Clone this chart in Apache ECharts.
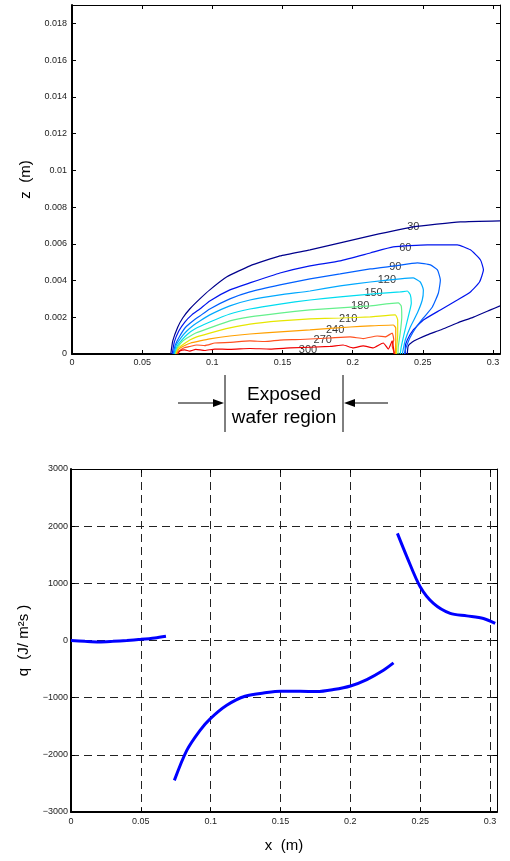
<!doctype html>
<html>
<head>
<meta charset="utf-8">
<title></title>
<script src="https://cdn.jsdelivr.net/npm/echarts@6/dist/echarts.min.js"></script>
<style>
  html, body { margin: 0; padding: 0; background: #fff; }
  #container { width: 510px; height: 861px; }
</style>
</head>
<body>
<div id="container"></div>
<script type="text/javascript">
// contour levels (temperature) and one [x, z] polyline per level
var levels = [30, 60, 90, 120, 150, 180, 210, 240, 270, 300];

var c030a = [[0.0704,0],[0.0718,0.00071],[0.0754,0.00147],[0.0789,0.00196],[0.0839,0.00245],[0.0911,0.003],[0.0982,0.00349],[0.1104,0.0042],[0.1268,0.0048],[0.1482,0.00534],[0.1696,0.00567],[0.1911,0.00605],[0.2125,0.00643],[0.2432,0.00692],[0.2768,0.00719],[0.305,0.00725]];
var c030b = [[0.2389,0],[0.2396,0.00044],[0.2425,0.00065],[0.2461,0.0008],[0.2532,0.00104],[0.2625,0.00131],[0.2746,0.00169],[0.2861,0.00201],[0.2982,0.0024],[0.305,0.00262]];
var c060 = [[0.0714,0],[0.0729,0.00065],[0.0761,0.00125],[0.0804,0.00174],[0.0854,0.00213],[0.0911,0.00245],[0.0982,0.00289],[0.1125,0.00349],[0.1268,0.00387],[0.1482,0.00441],[0.1696,0.0048],[0.1911,0.00507],[0.2125,0.0055],[0.2289,0.00583],[0.2532,0.00594],[0.2746,0.00594],[0.2839,0.00567],[0.2911,0.00512],[0.2932,0.00458],[0.2904,0.00392],[0.2839,0.00338],[0.2746,0.00294],[0.2625,0.0024],[0.2504,0.00185],[0.2432,0.00131],[0.2389,0.00076],[0.2375,0.00038],[0.2375,0]];
var c090 = [[0.0721,0],[0.0736,0.00049],[0.0768,0.00098],[0.0811,0.00147],[0.0861,0.0018],[0.0911,0.00207],[0.0982,0.00245],[0.1125,0.003],[0.1268,0.00338],[0.1482,0.00376],[0.1696,0.00409],[0.1911,0.00436],[0.2125,0.00463],[0.2304,0.0048],[0.2461,0.00496],[0.2554,0.00485],[0.2604,0.00458],[0.2625,0.00403],[0.2611,0.00332],[0.2568,0.00256],[0.2504,0.00196],[0.2454,0.00147],[0.2411,0.00093],[0.2382,0.00038],[0.2368,0]];
var c120 = [[0.0727,0],[0.0743,0.00049],[0.0775,0.00087],[0.0818,0.00125],[0.0868,0.00158],[0.0911,0.0018],[0.0982,0.00213],[0.1125,0.00262],[0.1268,0.00294],[0.1482,0.00322],[0.1696,0.00343],[0.1911,0.00371],[0.2125,0.00392],[0.2339,0.00409],[0.2432,0.00414],[0.2482,0.00392],[0.2504,0.00349],[0.2496,0.00294],[0.2461,0.00223],[0.2411,0.00147],[0.2375,0.00076],[0.2354,0]];
var c150 = [[0.0732,0],[0.075,0.00044],[0.0782,0.00076],[0.0825,0.00109],[0.0875,0.00136],[0.0982,0.00174],[0.1125,0.00218],[0.1268,0.00245],[0.1482,0.00272],[0.1696,0.00294],[0.1911,0.00311],[0.2146,0.00327],[0.2339,0.00338],[0.2389,0.00343],[0.2411,0.00322],[0.2418,0.00278],[0.2396,0.00202],[0.2368,0.00114],[0.2346,0.00038],[0.2339,0]];
var c180 = [[0.0737,0],[0.0754,0.00038],[0.0789,0.00071],[0.0832,0.00093],[0.0882,0.00114],[0.0982,0.00142],[0.1125,0.0018],[0.1268,0.00202],[0.1482,0.00223],[0.1696,0.0024],[0.1911,0.00251],[0.2125,0.00262],[0.2325,0.00278],[0.2346,0.00262],[0.235,0.00202],[0.2339,0.00114],[0.2325,0.00038],[0.2323,0]];
var c210 = [[0.0741,0],[0.0757,0.00033],[0.0796,0.00054],[0.0839,0.00076],[0.0889,0.00093],[0.0982,0.00114],[0.1125,0.00142],[0.1268,0.00163],[0.1482,0.0018],[0.1696,0.00191],[0.1911,0.00196],[0.2125,0.00202],[0.2304,0.00213],[0.2321,0.00185],[0.2321,0.00104],[0.2314,0.00038],[0.2311,0]];
var c240 = [[0.0746,0],[0.0761,0.00027],[0.0796,0.00044],[0.0846,0.0006],[0.0911,0.00071],[0.0982,0.00082],[0.1125,0.00098],[0.1268,0.00109],[0.1482,0.0012],[0.1696,0.00131],[0.1982,0.00147],[0.2125,0.00153],[0.2289,0.00158],[0.2307,0.00142],[0.2307,0.00076],[0.2304,0]];
var c270 = [[0.075,0],[0.0764,0.00016],[0.0796,0.00033],[0.0839,0.00041],[0.0889,0.00049],[0.0946,0.00046],[0.1018,0.0006],[0.1125,0.00063],[0.1268,0.00071],[0.1375,0.00068],[0.1482,0.00076],[0.1625,0.00079],[0.1839,0.00087],[0.1982,0.00093],[0.2075,0.00084],[0.2175,0.00098],[0.2232,0.00093],[0.2282,0.00114],[0.2293,0.00076],[0.2282,0.00044],[0.23,0]];
var c300 = [[0.0754,0],[0.0768,0.00016],[0.0804,0.00022],[0.0839,0.00016],[0.0882,0.00025],[0.0946,0.00019],[0.1018,0.00027],[0.1125,0.00025],[0.1268,0.0003],[0.1411,0.00027],[0.1554,0.00033],[0.1839,0.00041],[0.1932,0.00049],[0.2004,0.00033],[0.2075,0.00044],[0.2146,0.00033],[0.2218,0.0006],[0.2254,0.00027],[0.2282,0.00071],[0.2296,0]];

// where each level's number sits on its line
var labelAt = [[0.2432,0.00692],[0.2375,0.00578],[0.2304,0.00474],[0.2244,0.00403],[0.2149,0.00332],[0.2054,0.00262],[0.1968,0.00191],[0.1875,0.00131],[0.1787,0.00076],[0.1682,0.00022]];

// heat flux q along the wafer, three pieces
var qx1 = [0, 0.01, 0.02, 0.03, 0.04, 0.05, 0.06, 0.068];
var qv1 = [0, -15, -25, -15, 0, 20, 45, 75];
var qx2 = [0.074, 0.0829, 0.0924, 0.0998, 0.1115, 0.1246, 0.1402, 0.1502, 0.164, 0.176, 0.1879, 0.2001, 0.2118, 0.2237, 0.2309];
var qv2 = [-2447, -1921, -1571, -1366, -1133, -975, -911, -888, -888, -893, -858, -795, -683, -520, -392];
var qx3 = [0.2337, 0.2405, 0.25, 0.2595, 0.2715, 0.2834, 0.2953, 0.3037];
var qv3 = [1874, 1464, 939, 648, 473, 431, 385, 298];

var levelColors = ['#00008c', '#0014ee', '#0060ff', '#00a8ff', '#00dcf0', '#64f08c', '#e6e600', '#ffa000', '#ff5020', '#f00000'];
var FONT = 'Liberation Sans, Arial, Helvetica, sans-serif';

var contourLines = [
	[0, c030a], [0, c030b], [1, c060], [2, c090], [3, c120],
	[4, c150], [5, c180], [6, c210], [7, c240], [8, c270], [9, c300]
];

function zip(xs, ys) {
	var out = [];
	for (var i = 0; i < xs.length; i++) out.push([xs[i], ys[i]]);
	return out;
}

function boxAxis(grid, pos, min, max, interval, labels) {
	var ax = {
		type: 'value', gridIndex: grid, position: pos,
		min: min, max: max, interval: interval,
		axisLine: { show: true, onZero: false, lineStyle: { color: '#000', width: labels ? 2 : 1 } },
		axisTick: { show: true, inside: true, length: 4, lineStyle: { color: '#000' } },
		axisLabel: { show: !!labels, fontSize: 9, color: '#222', fontFamily: FONT, showMaxLabel: false },
		splitLine: { show: false },
		z: 3
	};
	return ax;
}

var xAxes = [
	boxAxis(0, 'bottom', 0, 0.305, 0.05, true),
	boxAxis(0, 'top', 0, 0.305, 0.05, false),
	boxAxis(1, 'bottom', 0, 0.305, 0.05, true),
	boxAxis(1, 'top', 0, 0.305, 0.05, false)
];
xAxes[0].axisLabel.margin = 4;
xAxes[2].axisLabel.margin = 5;
xAxes[2].splitLine = { show: true, lineStyle: { color: '#222', type: [8, 5], width: 1 } };
xAxes[2].name = 'x  (m)';
xAxes[2].nameLocation = 'middle';
xAxes[2].nameGap = 26;
xAxes[2].nameTextStyle = { fontSize: 15, color: '#000', fontFamily: FONT };

var yAxes = [
	boxAxis(0, 'left', 0, 0.019, 0.002, true),
	boxAxis(0, 'right', 0, 0.019, 0.002, false),
	boxAxis(1, 'left', -3000, 3000, 1000, true),
	boxAxis(1, 'right', -3000, 3000, 1000, false)
];
yAxes[0].axisLabel.margin = 5;
yAxes[0].name = 'z  (m)';
yAxes[0].nameLocation = 'middle';
yAxes[0].nameGap = 37;
yAxes[0].nameTextStyle = { fontSize: 15, color: '#000', fontFamily: FONT };
yAxes[2].axisLabel.margin = 3;
yAxes[2].axisLabel.showMaxLabel = true;
yAxes[2].axisLabel.formatter = function (v) { return String(v).replace('-', '\u2212'); };
yAxes[2].splitLine = { show: true, lineStyle: { color: '#222', type: [8, 5], width: 1 } };
yAxes[2].name = 'q  (J/ m\u00b2s )';
yAxes[2].nameLocation = 'middle';
yAxes[2].nameGap = 25;
yAxes[2].nameTextStyle = { fontSize: 15, color: '#000', fontFamily: FONT };

var series = [];
contourLines.forEach(function (c) {
	series.push({
		type: 'line', xAxisIndex: 0, yAxisIndex: 0,
		data: c[1], showSymbol: false, smooth: 0.15,
		lineStyle: { color: levelColors[c[0]], width: 1.2 },
		silent: true
	});
});
series.push({
	type: 'scatter', xAxisIndex: 0, yAxisIndex: 0, symbolSize: 0,
	data: labelAt,
	label: {
		show: true, position: 'inside', fontSize: 11, color: '#000', fontFamily: FONT,
		formatter: function (p) { return levels[p.dataIndex]; }
	},
	silent: true
});
[[qx1, qv1], [qx2, qv2], [qx3, qv3]].forEach(function (s) {
	series.push({
		type: 'line', xAxisIndex: 2, yAxisIndex: 2,
		data: zip(s[0], s[1]), showSymbol: false, smooth: 0.3,
		lineStyle: { color: '#0000ff', width: 3 },
		z: 5
	});
});

var option = {
	animation: false,
	backgroundColor: '#fff',
	grid: [
		{ left: 72, top: 5, width: 428, height: 349 },
		{ left: 71, top: 469, width: 426, height: 343 }
	],
	xAxis: xAxes,
	yAxis: yAxes,
	series: series,
	graphic: [
		{ type: 'line', shape: { x1: 225, y1: 375, x2: 225, y2: 432 }, style: { stroke: '#000', lineWidth: 1 } },
		{ type: 'line', shape: { x1: 343, y1: 375, x2: 343, y2: 432 }, style: { stroke: '#000', lineWidth: 1 } },
		{ type: 'line', shape: { x1: 178, y1: 403, x2: 214, y2: 403 }, style: { stroke: '#000', lineWidth: 1 } },
		{ type: 'polygon', shape: { points: [[224, 403], [213, 399], [213, 407]] }, style: { fill: '#000' } },
		{ type: 'line', shape: { x1: 388, y1: 403, x2: 354, y2: 403 }, style: { stroke: '#000', lineWidth: 1 } },
		{ type: 'polygon', shape: { points: [[344, 403], [355, 399], [355, 407]] }, style: { fill: '#000' } },
		{ type: 'text', x: 284, y: 395, style: { text: 'Exposed', fontSize: 19, fontFamily: FONT, fill: '#000', textAlign: 'center', textVerticalAlign: 'middle' } },
		{ type: 'text', x: 284, y: 418, style: { text: 'wafer region', fontSize: 19, fontFamily: FONT, fill: '#000', textAlign: 'center', textVerticalAlign: 'middle' } }
	]
};

var myChart = echarts.init(document.getElementById('container'));
myChart.setOption(option);
</script>
</body>
</html>
